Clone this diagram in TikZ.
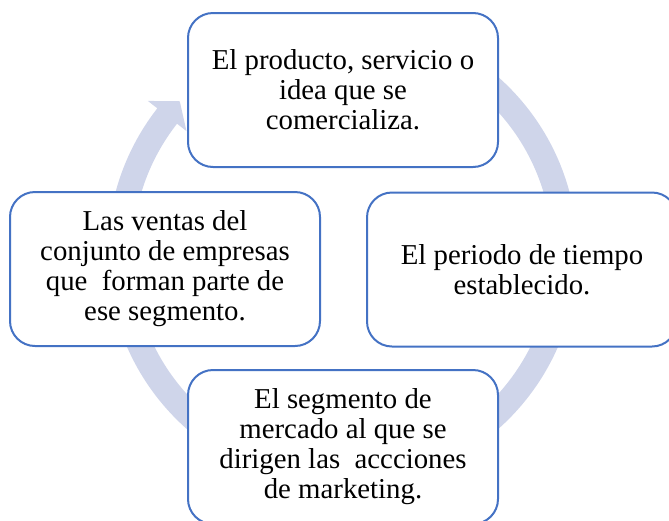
\documentclass[tikz,border=0pt]{standalone}
\usepackage{fontspec}
\setmainfont{Liberation Serif}
\usepackage{tikz}
\definecolor{boxblue}{RGB}{68,114,196}
\definecolor{ringblue}{RGB}{207,213,234}

\begin{document}
\begin{tikzpicture}[x=1pt,y=1pt]
    \tikzstyle{stage}=[rectangle,rounded corners=25pt,draw=boxblue,line width=2pt,fill=white,
        minimum width=310pt,minimum height=154pt,inner sep=0pt,align=center,
        font=\fontsize{28.8}{30}\selectfont]
    \tikzstyle{ring}=[fill=ringblue]

    % Fix the page and cut off what runs over the edges
    \useasboundingbox (0,0) rectangle (669,-520);
    \clip (0,0) rectangle (669,-520);

    % Draw the circular arrow behind the boxes
    \coordinate (ctr) at (342.5,-253);
    \fill[ring] ([shift={(95:235)}]ctr) arc[start angle=95,end angle=-218,radius=235]
        -- ([shift={(142:247)}]ctr) -- ([shift={(137:222.5)}]ctr)
        -- ([shift={(142:198)}]ctr) -- ([shift={(142:210)}]ctr)
        arc[start angle=-218,end angle=95,radius=210] -- cycle;

    % Draw the four boxes of the cycle
    \node[stage] (product) at (343,-90) {El producto, servicio o\\idea que se\\comercializa.};
    \node[stage] (period) at (522,-269.5) {El periodo de tiempo\\establecido.};
    \node[stage] (segment) at (343,-447) {El segmento de\\mercado al que se\\dirigen las~ accciones\\de marketing.};
    \node[stage] (sales) at (165,-269) {Las ventas del\\conjunto de empresas\\que~ forman parte de\\ese segmento.};
\end{tikzpicture}
\end{document}
